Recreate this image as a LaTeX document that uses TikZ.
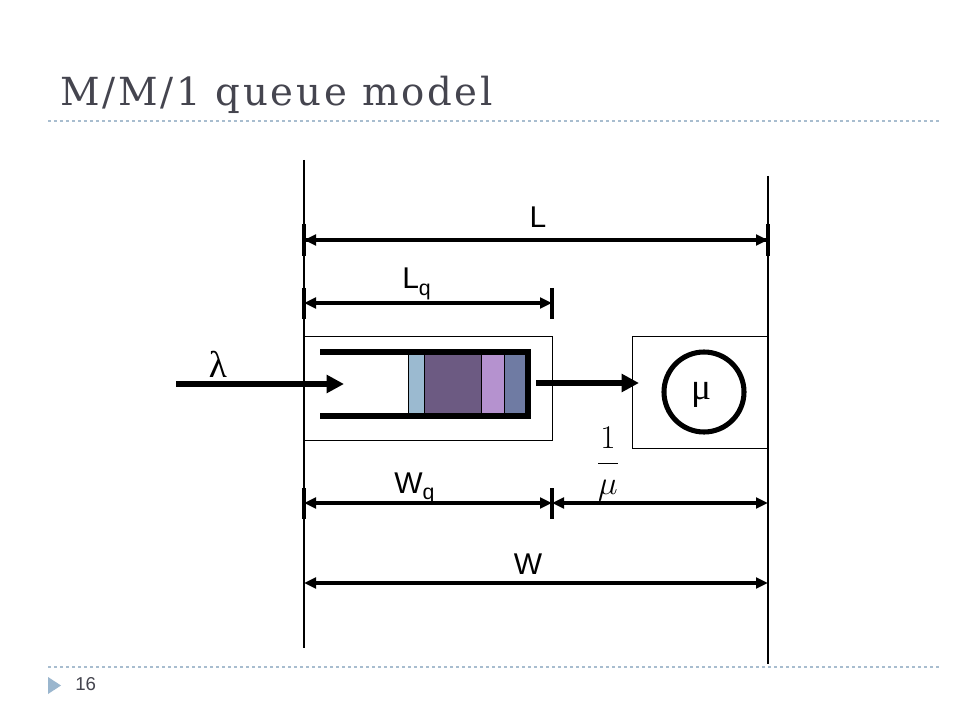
\documentclass[tikz,border=0pt]{standalone}
\usepackage{fontspec}
\setmainfont{Liberation Sans}
\newfontfamily\titlefont[LetterSpace=7]{DejaVu Serif}
\newfontfamily\symfont{Liberation Serif}
\usetikzlibrary{arrows.meta}
\definecolor{titlegray}{HTML}{45454F}
\definecolor{dashcol}{HTML}{A8BDCF}
\definecolor{tricol}{HTML}{9AB6CE}
\definecolor{qA}{HTML}{9BBAD0}
\definecolor{qB}{HTML}{6C5A82}
\definecolor{qC}{HTML}{B592CF}
\definecolor{qD}{HTML}{6F7BA3}
\tikzset{
  thinline/.style={line width=1pt},
  dimarrow/.style={line width=3pt,-{Triangle[length=9pt,width=8pt]}},
  dimboth/.style={line width=3pt,{Triangle[length=9pt,width=8pt]}-{Triangle[length=9pt,width=8pt]}},
  bigarrow/.style={line width=3.8pt,-{Triangle[length=13pt,width=13pt]}},
  barline/.style={line width=3.2pt},
  tube/.style={line width=4.4pt},
  lbl/.style={inner sep=0pt,font=\fontsize{22.5}{26}\selectfont},
  slidedash/.style={dashcol,line width=0.8pt,dash pattern=on 2.5pt off 2pt},
  qbar/.style={draw=black,line width=0.4pt}
}
\newcommand{\subq}{\raisebox{-0.22em}{\fontsize{16}{18}\selectfont q}}
\begin{document}
\begin{tikzpicture}[x=0.75pt,y=-0.75pt]
\useasboundingbox (0,0) rectangle (960,720);
\fill[white] (0,0) rectangle (960,720);

% title and slide decorations
\node[anchor=base west,inner sep=0pt,text=titlegray,font=\titlefont\fontsize{29}{34}\selectfont] (title) at (60,106) {M/M/1 queue model};
\coordinate (dt1) at (48,121); \coordinate (dt2) at (940,121);
\coordinate (db1) at (48,667); \coordinate (db2) at (940,667);
\draw[slidedash] (dt1) -- (dt2);
\draw[slidedash] (db1) -- (db2);
\fill[tricol] (48,677) -- (61,685.5) -- (48,694) -- cycle;
\node[anchor=base west,inner sep=0pt,text=titlegray,font=\fontsize{14}{16}\selectfont] (pagenum) at (75,690) {16};

% vertical guide lines
\coordinate (vl1) at (304,160); \coordinate (vl2) at (304,648);
\coordinate (vr1) at (768,176); \coordinate (vr2) at (768,664);
\draw[thinline] (vl1) -- (vl2);
\draw[thinline] (vr1) -- (vr2);

% L
\coordinate (La) at (304,240); \coordinate (Lb) at (768,240);
\draw[dimarrow] (Lb) -- (La);
\draw[dimarrow] (La) -- (Lb);
\draw[barline] (304,224) -- (304,256);
\draw[barline] (768,224) -- (768,256);
\node[lbl,anchor=base] (Llab) at (538,228) {L};

% Lq
\coordinate (Lqa) at (304,303); \coordinate (Lqb) at (552,303);
\draw[dimboth] (Lqa) -- (Lqb);
\draw[barline] (304,288) -- (304,319);
\draw[barline] (552,288) -- (552,319);
\node[lbl,anchor=base west] (Lqlab) at (402,289) {L\subq};

% queue box
\node[draw,thinline,minimum width=248*0.75pt,minimum height=104*0.75pt,inner sep=0pt,anchor=north west] (qbox) at (304,336) {};
\fill[qA] (408,352) rectangle (424,416);
\fill[qB] (424,352) rectangle (481,416);
\fill[qC] (481,352) rectangle (504,416);
\fill[qD] (504,352) rectangle (526,416);
\draw[qbar] (408,352) -- (408,416) (424,352) -- (424,416) (481,352) -- (481,416) (504,352) -- (504,416);
\draw[tube] (320,352) -- (528,352) -- (528,416) -- (320,416);

% arrival
\coordinate (inA) at (176,384); \coordinate (inB) at (344,384);
\draw[bigarrow] (inA) -- (inB);
\node[inner sep=0pt,font=\symfont\fontsize{28}{30}\selectfont] (lam) at (218,364) {λ};

% departure to server
\coordinate (outA) at (536,383); \coordinate (outB) at (639,383);
\draw[bigarrow] (outA) -- (outB);

% server box
\node[draw,thinline,minimum width=136*0.75pt,minimum height=112*0.75pt,inner sep=0pt,anchor=north west] (sbox) at (632,336) {};
\node[draw,circle,line width=3.8pt,minimum size=80*0.75pt,inner sep=0pt] (server) at (704,392) {};
\node[inner sep=0pt,font=\symfont\fontsize{28}{30}\selectfont] (mu) at (701,395) {μ};

% Wq and 1/mu
\coordinate (Wqa) at (304,503); \coordinate (Wqb) at (552,503); \coordinate (Sb) at (768,503);
\draw[dimboth] (Wqa) -- (Wqb);
\draw[dimboth] (Wqb) -- (Sb);
\draw[barline] (304,488) -- (304,519);
\draw[barline] (552,488) -- (552,519);
\node[lbl,anchor=base west] (Wqlab) at (394,493) {W\subq};
\node[inner sep=0pt,font=\fontsize{28}{32}\selectfont] (frac) at (608,464) {$\displaystyle\frac{1\rule[-4pt]{0pt}{4pt}}{\rule{0pt}{14pt}\mu}$};

% W
\coordinate (Wa) at (304,583); \coordinate (Wb) at (768,583);
\draw[dimboth] (Wa) -- (Wb);
\node[lbl,anchor=base] (Wlab) at (528,574) {W};
\end{tikzpicture}
\end{document}
